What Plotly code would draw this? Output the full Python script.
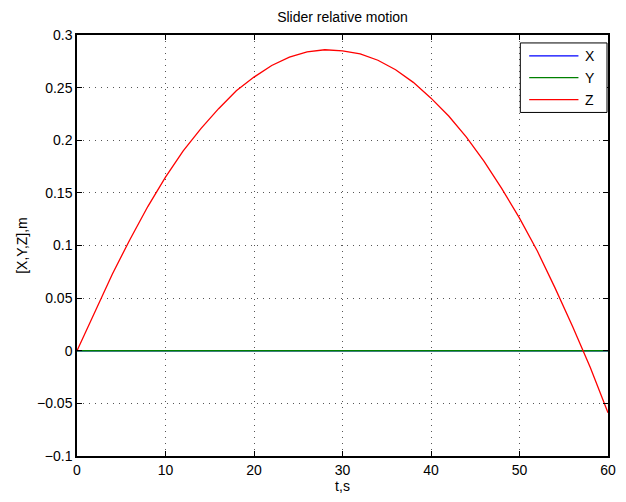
import plotly.graph_objects as go

# ---- data ----
t = [0, 2, 4, 6, 8, 10, 12, 14, 16, 18, 20, 22, 24, 26, 28, 30,
     32, 34, 36, 38, 40, 42, 44, 46, 48, 50, 52, 54, 56, 58, 60]
Z = [0.0, 0.037, 0.073, 0.106, 0.137, 0.165, 0.190, 0.211, 0.230, 0.247,
     0.260, 0.271, 0.279, 0.284, 0.286, 0.285, 0.282, 0.276, 0.267, 0.255,
     0.240, 0.223, 0.203, 0.180, 0.154, 0.126, 0.095, 0.060, 0.023, -0.016,
     -0.059]
X = [0.0] * len(t)
Y = [0.0] * len(t)

series_names = ["X", "Y", "Z"]
series_colors = ["#0000ff", "#008000", "#ff0000"]

x_ticks = [0, 10, 20, 30, 40, 50, 60]
y_ticks = [-0.1, -0.05, 0, 0.05, 0.1, 0.15, 0.2, 0.25, 0.3]
y_ticktext = ["\u22120.1", "\u22120.05", "0", "0.05", "0.1", "0.15", "0.2", "0.25", "0.3"]

title_text = "Slider relative motion"
x_title = "t,s"
y_title = "[X,Y,Z],m"

W, H = 626, 502
ML, MR, MT, MB = 77, 10, 35, 43
FONT = "Liberation Sans, Arial, Helvetica, sans-serif"

fig = go.Figure()
for name, vals, col in zip(series_names, [X, Y, Z], series_colors):
    fig.add_trace(go.Scatter(x=t, y=vals, mode="lines", name=name,
                             line=dict(color=col, width=1.3), showlegend=False))

axis_common = dict(
    showline=True, linecolor="black", linewidth=1.5, mirror="allticks",
    ticks="inside", ticklen=5, tickwidth=1, tickcolor="black",
    showgrid=True, gridcolor="#555555", gridwidth=1, griddash="1px,5px",
    zeroline=False, tickfont=dict(family=FONT, size=14, color="black"),
)
fig.update_xaxes(range=[0, 60], tickvals=x_ticks, **axis_common,
                 title=dict(text=x_title, font=dict(family=FONT, size=14, color="black"), standoff=5))
fig.update_yaxes(range=[-0.1, 0.3], tickvals=y_ticks, ticktext=y_ticktext, **axis_common,
                 title=dict(text=y_title, font=dict(family=FONT, size=14, color="black"), standoff=6))

# custom MATLAB-style legend box (layout decoration)
pw, ph = W - ML - MR, H - MT - MB
def px(xp):
    return (xp - ML) / pw
def py(yp):
    return (H - MB - yp) / ph

shapes = [dict(type="rect", xref="paper", yref="paper", x0=px(527), x1=px(615),
               y0=py(113), y1=py(43), line=dict(color="black", width=1),
               fillcolor="white", layer="above")]
annotations = []
for i, (name, col) in enumerate(zip(series_names, series_colors)):
    yy = 56 + 22 * i
    shapes.append(dict(type="line", xref="paper", yref="paper", x0=px(536), x1=px(586),
                       y0=py(yy), y1=py(yy), line=dict(color=col, width=1.3), layer="above"))
    annotations.append(dict(text=name, xref="paper", yref="paper", x=px(591), y=py(yy),
                            xanchor="left", yanchor="middle", showarrow=False,
                            font=dict(family=FONT, size=14, color="black")))

fig.update_layout(
    width=W, height=H, margin=dict(l=ML, r=MR, t=MT, b=MB),
    paper_bgcolor="white", plot_bgcolor="white",
    title=dict(text=title_text, x=0.5, xref="paper", y=1 - 17 / H, yanchor="middle",
               font=dict(family=FONT, size=14, color="black")),
    shapes=shapes, annotations=annotations,
)

fig.write_html("out.html")
